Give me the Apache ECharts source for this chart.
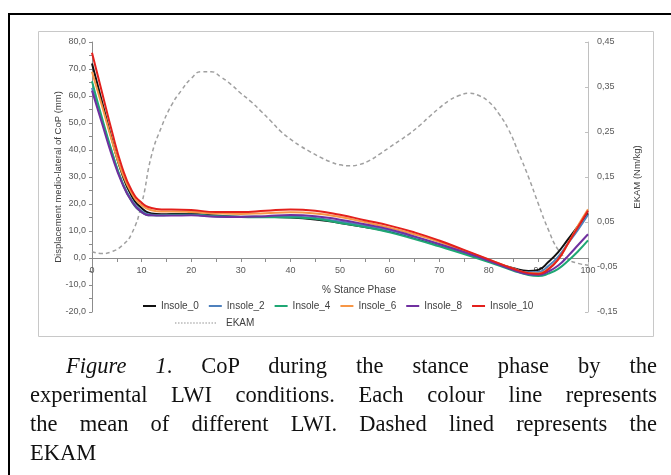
<!DOCTYPE html>
<html>
<head>
<meta charset="utf-8">
<script src="https://cdn.jsdelivr.net/npm/echarts@6/dist/echarts.min.js"></script>
<style>
  html, body { margin: 0; padding: 0; background: #fff; }
  #wrap { position: relative; width: 671px; height: 475px; overflow: hidden; }
  #chart { position: absolute; left: 0; top: 0; width: 671px; height: 475px; }
  #caption { position: absolute; left: 30px; top: 351px; width: 627px;
    font-family: "Liberation Serif", "DejaVu Serif", serif; font-size: 22.5px; line-height: 29px; color: #111; }
  #caption .j { text-align: justify; text-align-last: justify; }
</style>
</head>
<body>
<div id="wrap">
  <div id="chart"></div>
  <div id="caption">
    <div class="j" style="text-indent:36px"><i>Figure 1</i>. CoP during the stance phase by the</div>
    <div class="j">experimental LWI conditions. Each colour line represents</div>
    <div class="j">the mean of different LWI. Dashed lined represents the</div>
    <div>EKAM</div>
  </div>
</div>
<script>
// Stance phase (%) sample positions for the CoP curves
const X = [0, 2, 4, 6, 8, 10, 12, 14, 16, 20, 25, 30, 35, 40, 45, 50, 55, 60, 65, 70, 75, 80, 85, 88, 90, 92, 94, 96, 98, 100];
// CoP medio-lateral displacement (mm)
const insole0  = [72, 58, 44, 31.5, 23, 18.5, 16.5, 16.2, 16.3, 16.3, 15.7, 15.3, 15.2, 15, 14.3, 13, 11.5, 9.8, 7.5, 4.8, 2, -1, -3.8, -4.8, -4.4, -1.5, 2.2, 7, 11.8, 16.5];
const insole2  = [63, 51, 39, 28.5, 21.5, 17.5, 16, 15.8, 15.9, 16, 15.5, 15.2, 15.3, 15.3, 14.8, 13.5, 12, 10.2, 7.7, 5, 2, -1, -4, -5.3, -5.2, -3, 0.5, 5.5, 10.5, 16];
const insole4  = [65.5, 52, 39.5, 28.5, 21, 17, 15.8, 15.8, 16, 16, 15.5, 15.2, 15.1, 15, 14.5, 13, 11.5, 9.5, 7, 4.3, 1.5, -1.5, -4.7, -6.3, -6.7, -5.8, -4, -1, 2.5, 6.5];
const insole6  = [69, 56.5, 43.5, 32, 24, 19.5, 17.7, 17.2, 17.2, 17, 16.5, 16.3, 16.6, 16.9, 16.5, 15.2, 13.3, 11.2, 8.8, 6, 2.7, -0.6, -4, -5.6, -5.7, -4, -0.5, 5.5, 12, 18];
const insole8  = [62, 50, 38, 28, 21, 17, 15.8, 15.7, 15.7, 15.8, 15.3, 15.2, 15.5, 15.9, 15.5, 14.2, 12.5, 10.6, 8, 5.2, 2.2, -1, -4.5, -6, -6.2, -5, -2.8, 0.8, 4.8, 8.8];
const insole10 = [76, 61.5, 47, 34, 25, 20.5, 18.5, 18, 18, 17.8, 17, 17, 17.5, 18, 17.5, 16, 14, 12, 9.5, 6.5, 3, -0.5, -4, -5.6, -5.9, -4.2, -0.5, 5.5, 11.5, 17.5];
// EKAM (Nm/kg)
const EK_X = [0,2,4,6,8,10,12,14,16,18,20,22,24,26,28,30,32,34,36,38,40,42,44,46,48,50,52,54,56,58,60,62,64,66,68,70,72,74,76,78,80,82,84,86,88,90,92,94,96,98,100];
const ekam = [-0.016,-0.02,-0.016,-0.003,0.024,0.09,0.198,0.261,0.309,0.342,0.369,0.384,0.384,0.372,0.356,0.336,0.318,0.297,0.275,0.252,0.234,0.219,0.206,0.194,0.184,0.177,0.175,0.178,0.187,0.201,0.216,0.231,0.246,0.264,0.284,0.303,0.32,0.331,0.336,0.331,0.317,0.291,0.255,0.204,0.15,0.09,0.033,-0.012,-0.033,-0.042,-0.046];

const names = ['Insole_0', 'Insole_2', 'Insole_4', 'Insole_6', 'Insole_8', 'Insole_10'];
const values = [insole0, insole2, insole4, insole6, insole8, insole10];
const colors = ['#111111', '#4f81bd', '#1fa774', '#f79646', '#7030a0', '#e3201c'];

const font = '"Liberation Sans", Arial, sans-serif';
const chart = echarts.init(document.getElementById('chart'), null, { renderer: 'canvas' });

// dotted legend icon for EKAM
let dots = '';
for (let i = 0; i < 14; i++) dots += 'M' + (i * 3) + ',0h1.4v1h-1.4z';
const dottedIcon = 'path://' + dots;

const series = names.map((n, i) => ({
  name: n, type: 'line', smooth: true, symbol: 'none', yAxisIndex: 0,
  lineStyle: { color: colors[i], width: 2 }, itemStyle: { color: colors[i] },
  data: X.map((x, k) => [x, values[i][k]]), z: 3 + i
}));
series.unshift({
  name: 'EKAM', type: 'line', smooth: true, symbol: 'none', yAxisIndex: 1,
  lineStyle: { color: '#a0a0a0', width: 1.5, type: [4, 3] }, itemStyle: { color: '#a0a0a0' },
  data: EK_X.map((x, k) => [x, ekam[k]]), z: 2
});

chart.setOption({
  animation: false,
  backgroundColor: '#fff',
  graphic: [
    { type: 'rect', shape: { x: 9, y: 14, width: 720, height: 520 }, style: { fill: 'none', stroke: '#000', lineWidth: 2 }, silent: true },
    { type: 'rect', shape: { x: 38.5, y: 31.5, width: 615, height: 305 }, style: { fill: 'none', stroke: '#c8c8c8', lineWidth: 1 }, silent: true }
  ],
  grid: { left: 92, right: 83, top: 42, bottom: 163 },
  legend: [
    { data: names, left: 143, top: 301, padding: 0, itemWidth: 13, itemHeight: 2, itemGap: 10, icon: 'rect',
      textStyle: { fontFamily: font, fontSize: 10, color: '#404040' } },
    { data: [{ name: 'EKAM', icon: dottedIcon }], left: 175, top: 318, padding: 0, itemWidth: 41, itemHeight: 1.2,
      itemStyle: { color: '#8c8c8c' },
      textStyle: { fontFamily: font, fontSize: 10, color: '#404040', padding: [0, 0, 0, 5] } }
  ],
  xAxis: {
    type: 'value', min: 0, max: 100, interval: 5, position: 'bottom', offset: -54,
    name: '% Stance Phase', nameLocation: 'middle', nameGap: 27, nameMoveOverlap: false,
    nameTextStyle: { fontFamily: font, fontSize: 10, color: '#404040', padding: [0, 0, 0, 38] },
    axisLine: { onZero: false, lineStyle: { color: '#8c8c8c' } },
    axisTick: { length: 4, lineStyle: { color: '#8c8c8c' } },
    axisLabel: { fontFamily: font, fontSize: 9, color: '#595959', margin: 8,
      formatter: v => (v % 10 === 0 ? String(v) : '') },
    splitLine: { show: false }
  },
  yAxis: [
    {
      type: 'value', min: -20, max: 80, interval: 10,
      name: 'Displacement medio-lateral of CoP (mm)', nameLocation: 'middle', nameGap: 29, nameMoveOverlap: false,
      nameTextStyle: { fontFamily: font, fontSize: 9.5, color: '#404040' },
      axisLine: { show: true, lineStyle: { color: '#8c8c8c' } },
      axisTick: { show: true, length: 3, lineStyle: { color: '#8c8c8c' } },
      minorTick: { show: true, splitNumber: 2, length: 3, lineStyle: { color: '#8c8c8c' } },
      axisLabel: { fontFamily: font, fontSize: 9, color: '#595959', margin: 6,
        formatter: v => v.toFixed(1).replace('.', ',') },
      splitLine: { show: false }
    },
    {
      type: 'value', min: -0.15, max: 0.45, interval: 0.1, position: 'right',
      name: 'EKAM (Nm/kg)', nameLocation: 'middle', nameGap: 44, nameMoveOverlap: false,
      nameTextStyle: { fontFamily: font, fontSize: 9.5, color: '#404040' },
      axisLine: { show: true, lineStyle: { color: '#c0c0c0' } },
      axisTick: { show: true, inside: true, length: 3, lineStyle: { color: '#c0c0c0' } },
      axisLabel: { fontFamily: font, fontSize: 9, color: '#595959', margin: 9,
        formatter: v => (Math.round(v * 100) / 100).toFixed(2).replace('.', ',') },
      splitLine: { show: false }
    }
  ],
  series: series
});
</script>
</body>
</html>
